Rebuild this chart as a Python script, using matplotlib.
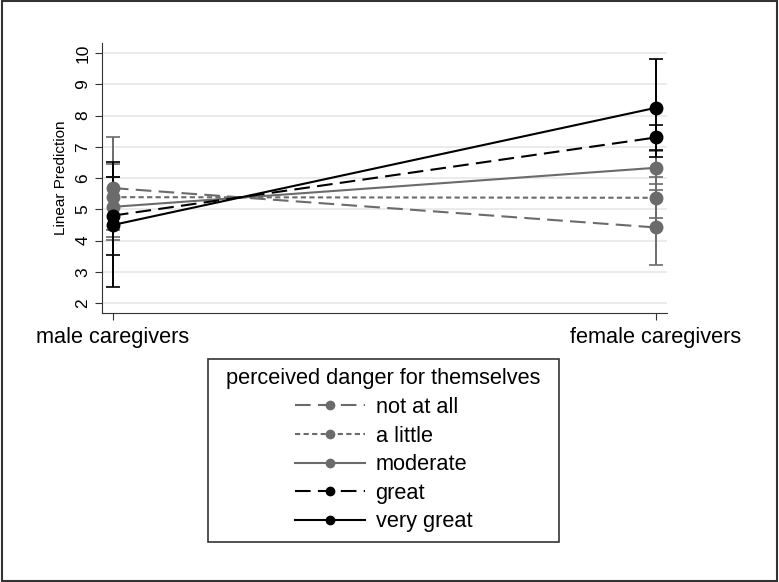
import matplotlib
matplotlib.use("Agg")
import matplotlib.pyplot as plt
from matplotlib.patches import Rectangle

plt.rcParams["font.family"] = ["Liberation Sans", "DejaVu Sans"]

groups = ["male caregivers", "female caregivers"]
levels = ["not at all", "a little", "moderate", "great", "very great"]

# predicted values per level: (male, female)
pred = {
    "not at all": [5.68, 4.42],
    "a little":   [5.39, 5.37],
    "moderate":   [5.08, 6.33],
    "great":      [4.80, 7.30],
    "very great": [4.50, 8.25],
}
# 95% CI bounds per level: (male, female)
ci_lo = {
    "not at all": [4.03, 3.22],
    "a little":   [4.33, 4.72],
    "moderate":   [4.13, 5.80],
    "great":      [3.55, 6.90],
    "very great": [2.50, 6.68],
}
ci_hi = {
    "not at all": [7.33, 5.62],
    "a little":   [6.45, 6.02],
    "moderate":   [6.03, 6.86],
    "great":      [6.05, 7.70],
    "very great": [6.50, 9.82],
}
yticks = [2, 3, 4, 5, 6, 7, 8, 9, 10]

GRAY = "#6b6b6b"
STYLE = {
    "not at all": dict(color=GRAY, linestyle=(0, (7.5, 3.5))),
    "a little":   dict(color=GRAY, linestyle=(0, (2.5, 1.6))),
    "moderate":   dict(color=GRAY, linestyle="-"),
    "great":      dict(color="black", linestyle=(0, (7.5, 3.5))),
    "very great": dict(color="black", linestyle="-"),
}

fig = plt.figure(figsize=(7.79, 5.82), dpi=100)
ax = fig.add_axes([0.131, 0.462, 0.725, 0.464])

x = [0, 1]
handles = []
for lev in levels:
    st = STYLE[lev]
    lo = [p - l for p, l in zip(pred[lev], ci_lo[lev])]
    hi = [h - p for p, h in zip(pred[lev], ci_hi[lev])]
    ax.errorbar(x, pred[lev], yerr=[lo, hi], fmt="none", ecolor=st["color"],
                elinewidth=1.4, capsize=5, capthick=1.2, zorder=2)
    ax.plot(x, pred[lev], color=st["color"], linestyle=st["linestyle"],
            linewidth=1.5, zorder=3)
    ax.plot(x, pred[lev], linestyle="none", marker="o", markersize=9,
            color=st["color"], zorder=4)
    h, = ax.plot([], [], color=st["color"], linestyle=st["linestyle"],
                 linewidth=1.5, marker="o", markersize=6, label=lev)
    handles.append(h)

ax.set_xlim(-0.02, 1.02)
ax.set_ylim(1.68, 10.32)
ax.set_yticks(yticks)
ax.set_yticklabels([str(t) for t in yticks], rotation=90, va="center")
ax.set_xticks(x)
ax.set_xticklabels(groups, fontsize=15.7)
ax.tick_params(axis="y", labelsize=12.5, length=5, color="#333333")
ax.tick_params(axis="x", length=5, color="#333333", pad=5)
ax.grid(axis="y", color="#e8e8e8", linewidth=1.2)
ax.set_axisbelow(True)
for side in ("top", "right"):
    ax.spines[side].set_visible(False)
for side in ("left", "bottom"):
    ax.spines[side].set_color("#333333")
ax.set_ylabel("Linear Prediction", fontsize=11, labelpad=5)

# legend contents without frame, box drawn separately (Stata-style padding)
leg = fig.legend(handles=handles, title="perceived danger for themselves",
                 loc="center", bbox_to_anchor=(0.4923, 0.2262),
                 borderaxespad=0, fontsize=15.7, title_fontsize=15.7,
                 handlelength=3.2, handletextpad=0.5,
                 labelspacing=0.35, borderpad=0.3, frameon=False)
fig.patches.append(Rectangle((0.267, 0.0687), 0.4506, 0.3144,
                             transform=fig.transFigure, fill=False,
                             edgecolor="#333333", linewidth=1.2))

fig.patches.append(Rectangle((0.002, 0.002), 0.996, 0.996, transform=fig.transFigure,
                             fill=False, edgecolor="#333333", linewidth=1.5))

fig.savefig("out.png", dpi=100)
